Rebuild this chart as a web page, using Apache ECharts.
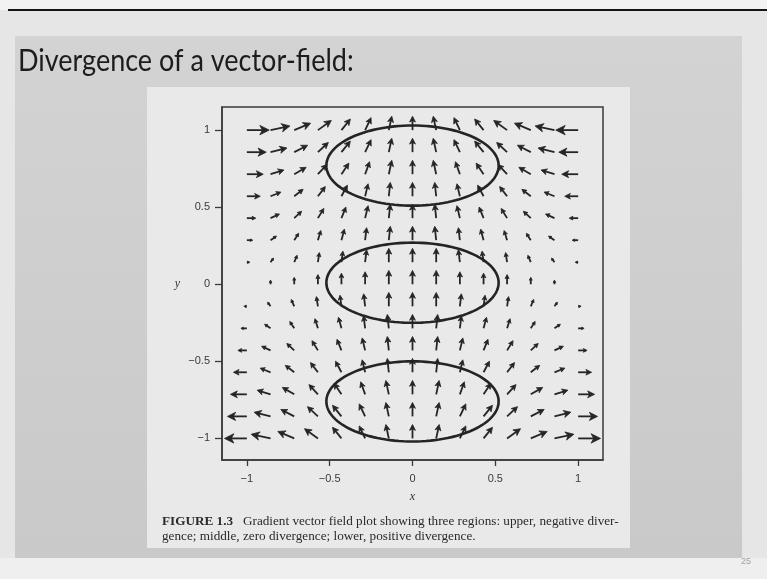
<!DOCTYPE html>
<html>
<head>
<meta charset="utf-8">
<script src="https://cdn.jsdelivr.net/npm/echarts@6/dist/echarts.min.js"></script>
<style>
  html, body { margin: 0; padding: 0; background: #e6e6e6; }
  #chart { width: 767px; height: 579px; }
</style>
</head>
<body>
<div id="chart"></div>
<script>
// Grid of sample points (tails of the arrows)
const xs = [-1, -0.857, -0.714, -0.571, -0.429, -0.286, -0.143, 0, 0.143, 0.286, 0.429, 0.571, 0.714, 0.857, 1];
const ys = [1, 0.857, 0.714, 0.571, 0.429, 0.286, 0.143, 0, -0.143, -0.286, -0.429, -0.571, -0.714, -0.857, -1];

// Horizontal component of each arrow, one row per y value (top to bottom)
const U = [
  [1.5, 1.3, 1.1, 0.9, 0.6, 0.4, 0.2, 0, -0.2, -0.4, -0.6, -0.9, -1.1, -1.3, -1.5],
  [1.3, 1.1, 0.9, 0.7, 0.6, 0.4, 0.2, 0, -0.2, -0.4, -0.6, -0.7, -0.9, -1.1, -1.3],
  [1.1, 0.9, 0.8, 0.6, 0.5, 0.3, 0.2, 0, -0.2, -0.3, -0.5, -0.6, -0.8, -0.9, -1.1],
  [0.9, 0.7, 0.6, 0.5, 0.4, 0.2, 0.1, 0, -0.1, -0.2, -0.4, -0.5, -0.6, -0.7, -0.9],
  [0.6, 0.6, 0.5, 0.4, 0.3, 0.2, 0.1, 0, -0.1, -0.2, -0.3, -0.4, -0.5, -0.6, -0.6],
  [0.4, 0.4, 0.3, 0.2, 0.2, 0.1, 0.1, 0, -0.1, -0.1, -0.2, -0.2, -0.3, -0.4, -0.4],
  [0.2, 0.2, 0.2, 0.1, 0.1, 0.1, 0, 0, 0, -0.1, -0.1, -0.1, -0.2, -0.2, -0.2],
  [0, 0, 0, 0, 0, 0, 0, 0, 0, 0, 0, 0, 0, 0, 0],
  [-0.2, -0.2, -0.2, -0.1, -0.1, -0.1, 0, 0, 0, 0.1, 0.1, 0.1, 0.2, 0.2, 0.2],
  [-0.4, -0.4, -0.3, -0.2, -0.2, -0.1, -0.1, 0, 0.1, 0.1, 0.2, 0.2, 0.3, 0.4, 0.4],
  [-0.6, -0.6, -0.5, -0.4, -0.3, -0.2, -0.1, 0, 0.1, 0.2, 0.3, 0.4, 0.5, 0.6, 0.6],
  [-0.9, -0.7, -0.6, -0.5, -0.4, -0.2, -0.1, 0, 0.1, 0.2, 0.4, 0.5, 0.6, 0.7, 0.9],
  [-1.1, -0.9, -0.8, -0.6, -0.5, -0.3, -0.2, 0, 0.2, 0.3, 0.5, 0.6, 0.8, 0.9, 1.1],
  [-1.3, -1.1, -0.9, -0.7, -0.6, -0.4, -0.2, 0, 0.2, 0.4, 0.6, 0.7, 0.9, 1.1, 1.3],
  [-1.5, -1.3, -1.1, -0.9, -0.6, -0.4, -0.2, 0, 0.2, 0.4, 0.6, 0.9, 1.1, 1.3, 1.5]
];

// Vertical component of each arrow, same layout as U
const V = [
  [0, 0.3, 0.5, 0.7, 0.8, 0.9, 1, 1, 1, 0.9, 0.8, 0.7, 0.5, 0.3, 0],
  [0, 0.3, 0.5, 0.7, 0.8, 0.9, 1, 1, 1, 0.9, 0.8, 0.7, 0.5, 0.3, 0],
  [0, 0.3, 0.5, 0.7, 0.8, 0.9, 1, 1, 1, 0.9, 0.8, 0.7, 0.5, 0.3, 0],
  [0, 0.3, 0.5, 0.7, 0.8, 0.9, 1, 1, 1, 0.9, 0.8, 0.7, 0.5, 0.3, 0],
  [0, 0.3, 0.5, 0.7, 0.8, 0.9, 1, 1, 1, 0.9, 0.8, 0.7, 0.5, 0.3, 0],
  [0, 0.3, 0.5, 0.7, 0.8, 0.9, 1, 1, 1, 0.9, 0.8, 0.7, 0.5, 0.3, 0],
  [0, 0.3, 0.5, 0.7, 0.8, 0.9, 1, 1, 1, 0.9, 0.8, 0.7, 0.5, 0.3, 0],
  [0, 0.3, 0.5, 0.7, 0.8, 0.9, 1, 1, 1, 0.9, 0.8, 0.7, 0.5, 0.3, 0],
  [0, 0.3, 0.5, 0.7, 0.8, 0.9, 1, 1, 1, 0.9, 0.8, 0.7, 0.5, 0.3, 0],
  [0, 0.3, 0.5, 0.7, 0.8, 0.9, 1, 1, 1, 0.9, 0.8, 0.7, 0.5, 0.3, 0],
  [0, 0.3, 0.5, 0.7, 0.8, 0.9, 1, 1, 1, 0.9, 0.8, 0.7, 0.5, 0.3, 0],
  [0, 0.3, 0.5, 0.7, 0.8, 0.9, 1, 1, 1, 0.9, 0.8, 0.7, 0.5, 0.3, 0],
  [0, 0.3, 0.5, 0.7, 0.8, 0.9, 1, 1, 1, 0.9, 0.8, 0.7, 0.5, 0.3, 0],
  [0, 0.3, 0.5, 0.7, 0.8, 0.9, 1, 1, 1, 0.9, 0.8, 0.7, 0.5, 0.3, 0],
  [0, 0.3, 0.5, 0.7, 0.8, 0.9, 1, 1, 1, 0.9, 0.8, 0.7, 0.5, 0.3, 0]
];

// The three regions: centre (x, y) and semi-axes (a, b)
const regionCenters = [[0, 0.77], [0, 0.01], [0, -0.76]];
const regionAxes = [0.52, 0.26];

const xTicks = [-1, -0.5, 0, 0.5, 1];
const yTicks = [-1, -0.5, 0, 0.5, 1];

const slideTitle = 'Divergence of a vector-field:';
const captionLabel = 'FIGURE 1.3';
const captionLine1 = 'Gradient vector field plot showing three regions: upper, negative diver-';
const captionLine2 = 'gence; middle, zero divergence; lower, positive divergence.';
const pageNumber = '25';

// ---- build series data ----
const arrowData = [];
ys.forEach((y, i) => {
  xs.forEach((x, j) => {
    arrowData.push([x, y, U[i][j], V[i][j]]);
  });
});
const ellipseData = regionCenters.map(c => [c[0], c[1], regionAxes[0], regionAxes[1]]);

const INK = '#252525';
const ARROW_SCALE = 0.09;   // data units per unit of vector length

function tickText(v) {
  return String(v).replace('-', '\u2212');
}

function renderArrow(params, api) {
  const x = api.value(0), y = api.value(1), u = api.value(2), v = api.value(3);
  const p0 = api.coord([x, y]);
  const p1 = api.coord([x + u * ARROW_SCALE, y + v * ARROW_SCALE]);
  const dx = p1[0] - p0[0], dy = p1[1] - p0[1];
  const L = Math.sqrt(dx * dx + dy * dy);
  if (L < 0.5) return null;
  const ux = dx / L, uy = dy / L;
  const h = Math.max(L * 0.42, 2.4);
  const w = h * 0.5;
  const bx = p1[0] - ux * h, by = p1[1] - uy * h;
  const nx = p1[0] - ux * h * 0.72, ny = p1[1] - uy * h * 0.72;
  return {
    type: 'group',
    children: [
      {
        type: 'line',
        shape: { x1: p0[0], y1: p0[1], x2: p1[0] - ux * h * 0.5, y2: p1[1] - uy * h * 0.5 },
        style: { stroke: INK, lineWidth: 1.8 }
      },
      {
        type: 'polygon',
        shape: { points: [
          [p1[0], p1[1]],
          [bx - uy * w, by + ux * w],
          [nx, ny],
          [bx + uy * w, by - ux * w]
        ] },
        style: { fill: INK, stroke: INK, lineWidth: 0.8, lineJoin: 'round' }
      }
    ]
  };
}

function renderEllipse(params, api) {
  const cx = api.value(0), cy = api.value(1), a = api.value(2), b = api.value(3);
  const pts = [];
  const n = 120;
  for (let k = 0; k < n; k++) {
    const t = (k / n) * Math.PI * 2;
    pts.push(api.coord([cx + a * Math.cos(t), cy + b * Math.sin(t)]));
  }
  return {
    type: 'polygon',
    shape: { points: pts },
    style: { fill: null, stroke: '#242424', lineWidth: 2.6 }
  };
}

const chart = echarts.init(document.getElementById('chart'), null, { renderer: 'canvas' });

chart.setOption({
  backgroundColor: '#e6e6e6',
  animation: false,
  graphic: [
    // slide background pieces
    { type: 'rect', z: -10, shape: { x: 0, y: 0, width: 767, height: 10 }, style: { fill: '#f2f2f2' } },
    { type: 'rect', z: -10, shape: { x: 8, y: 9, width: 759, height: 2 }, style: { fill: '#151515' } },
    { type: 'rect', z: -10, shape: { x: 0, y: 558, width: 767, height: 21 }, style: { fill: '#efefef' } },
    {
      type: 'rect', z: -9,
      shape: { x: 15, y: 36, width: 727, height: 522 },
      style: {
        fill: new echarts.graphic.LinearGradient(0, 0, 0, 1, [
          { offset: 0, color: '#d3d3d3' },
          { offset: 1, color: '#c9c9c9' }
        ])
      }
    },
    // page of the book
    { type: 'rect', z: -8, shape: { x: 147, y: 87, width: 483, height: 461 }, style: { fill: '#e9e9e9' } },
    // slide title
    {
      type: 'text', z: 5, x: 18, y: 46, scaleX: 0.9,
      style: { text: slideTitle, fill: '#1c1c1c', font: '30px Lato, "Open Sans", sans-serif' }
    },
    // figure caption
    {
      type: 'text', z: 5, left: 162, top: 515,
      style: {
        text: '{b|' + captionLabel + '}   ' + captionLine1,
        fill: '#2a2a2a',
        font: '13.2px "Liberation Serif", serif',
        rich: { b: { fontWeight: 'bold', fontSize: 13.2, fontFamily: 'Liberation Serif', fill: '#2a2a2a' } }
      }
    },
    {
      type: 'text', z: 5, left: 162, top: 530,
      style: { text: captionLine2, fill: '#2a2a2a', font: '13.2px "Liberation Serif", serif' }
    },
    // page number
    {
      type: 'text', z: 5, left: 741, top: 557,
      style: { text: pageNumber, fill: '#a0a0a0', font: '9px "Liberation Sans", sans-serif' }
    }
  ],
  grid: {
    left: 222, right: 164, top: 107, bottom: 119,
    show: true, borderColor: '#3a3a3a', borderWidth: 1.5, backgroundColor: 'transparent'
  },
  xAxis: {
    type: 'value', min: -1.15, max: 1.15,
    name: 'x', nameLocation: 'middle', nameGap: 31,
    nameTextStyle: { fontFamily: 'Liberation Serif', fontStyle: 'italic', fontSize: 12, color: '#333' },
    axisLine: { show: true, onZero: false, lineStyle: { color: '#3a3a3a', width: 1.5 } },
    axisTick: { show: true, inside: false, length: 6, customValues: xTicks, lineStyle: { color: '#3a3a3a', width: 1.3 } },
    axisLabel: { customValues: xTicks, formatter: tickText, margin: 13, fontFamily: 'Liberation Sans', fontSize: 11, color: '#3a3a3a' },
    splitLine: { show: false }
  },
  yAxis: {
    type: 'value', min: -1.14, max: 1.15,
    name: 'y', nameLocation: 'middle', nameGap: 42, nameRotate: 0,
    nameTextStyle: { fontFamily: 'Liberation Serif', fontStyle: 'italic', fontSize: 12, color: '#333' },
    axisLine: { show: true, onZero: false, lineStyle: { color: '#3a3a3a', width: 1.5 } },
    axisTick: { show: true, inside: false, length: 7, customValues: yTicks, lineStyle: { color: '#3a3a3a', width: 1.3 } },
    axisLabel: { customValues: yTicks, formatter: tickText, margin: 12, fontFamily: 'Liberation Sans', fontSize: 11, color: '#3a3a3a' },
    splitLine: { show: false }
  },
  series: [
    {
      type: 'custom',
      name: 'gradient',
      renderItem: renderArrow,
      data: arrowData,
      encode: { x: 0, y: 1 },
      clip: false,
      z: 3
    },
    {
      type: 'custom',
      name: 'regions',
      renderItem: renderEllipse,
      data: ellipseData,
      encode: { x: 0, y: 1 },
      clip: false,
      z: 4
    }
  ]
});
</script>
</body>
</html>
